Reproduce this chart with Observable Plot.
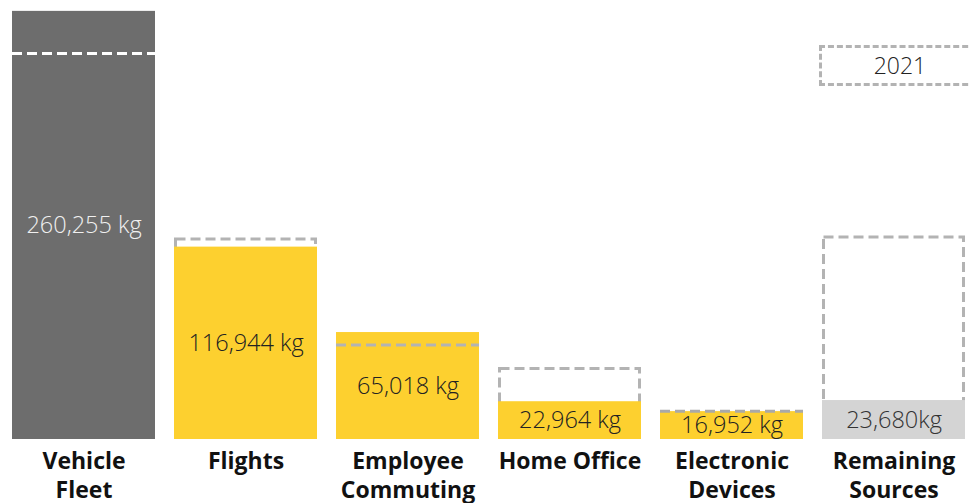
<!DOCTYPE html>
<html>
<head>
<meta charset="utf-8">
<script src="https://cdn.jsdelivr.net/npm/d3@7"></script>
<script src="https://cdn.jsdelivr.net/npm/@observablehq/plot@0.6"></script>
<style>
  html, body { margin: 0; padding: 0; background: #fff; }
  #wrap { position: relative; width: 970px; height: 503px; overflow: hidden; font-family: "Open Sans", sans-serif; }
  #legend { position: absolute; left: 819px; top: 45px; width: 170px; height: 35px; border: 3px dashed #b3b3b3; box-sizing: content-box; }
  #legend span { position: absolute; left: 0; width: 156px; top: 0; line-height: 35px; text-align: center; font-size: 23px; font-weight: 300; color: #222; }
</style>
</head>
<body>
<div id="wrap"><div id="legend"><span>2021</span></div></div>
<script>
const categories = ["Vehicle Fleet", "Flights", "Employee Commuting", "Home Office", "Electronic Devices", "Remaining Sources"];
const tickLabels = ["Vehicle\nFleet", "Flights", "Employee\nCommuting", "Home Office", "Electronic\nDevices", "Remaining\nSources"];
const values2022 = [260255, 116944, 65018, 22964, 16952, 23680];
const values2021 = [234600, 121600, 57400, 42800, 17200, 122800];
const valueLabels = ["260,255 kg", "116,944 kg", "65,018 kg", "22,964 kg", "16,952 kg", "23,680kg"];
const barColors = ["#6d6d6d", "#fdd02f", "#fdd02f", "#fdd02f", "#fdd02f", "#d4d4d4"];
const labelColors = ["#f0f0f0", "#222222", "#222222", "#222222", "#222222", "#333333"];
const lineColors = ["#ffffff", "#b7a046", "#b3b3b3", "#b3b3b3", "#a9a9a9", "#b3b3b3"];
const legendLabel = "2021";

const data = categories.map((c, i) => ({
  cat: c, tick: tickLabels[i], v22: values2022[i], v21: values2021[i],
  label: valueLabels[i], color: barColors[i], textColor: labelColors[i], lineColor: lineColors[i]
}));
const above = data.filter(d => d.v21 > d.v22 + 500);
const inside = data.filter(d => d.v21 <= d.v22 + 500);

const chart = Plot.plot({
  width: 970,
  height: 503,
  marginTop: 8,
  marginBottom: 64,
  marginLeft: 10,
  marginRight: 4,
  style: { fontFamily: "Open Sans, sans-serif", background: "#fff" },
  x: { domain: categories, paddingInner: 0.12, paddingOuter: 0, label: null },
  y: { domain: [0, 262000], axis: null },
  color: { type: "identity" },
  marks: [
    Plot.barY(above, { x: "cat", y: "v21", fill: "none", stroke: "#b3b3b3", strokeWidth: 3, strokeDasharray: "10,5", insetLeft: 1.5, insetRight: 1.5, insetBottom: 6 }),
    Plot.barY(data, { x: "cat", y: "v22", fill: "color" }),
    Plot.tickY(inside, { x: "cat", y: "v21", stroke: "lineColor", strokeWidth: 3, strokeDasharray: "10,5" }),
    Plot.text(data, { x: "cat", y: d => d.v22 / 2, text: "label", fill: "textColor", fontSize: 23.5, fontWeight: 300 }),
    Plot.axisX({
      tickSize: 0, tickPadding: 9, fontSize: 23, fontWeight: 700, fill: "#111", lineHeight: 1.27,
      tickFormat: d => tickLabels[categories.indexOf(d)], label: null
    })
  ]
});
document.getElementById("wrap").prepend(chart);
document.querySelector("#legend span").textContent = legendLabel;
</script>
</body>
</html>
